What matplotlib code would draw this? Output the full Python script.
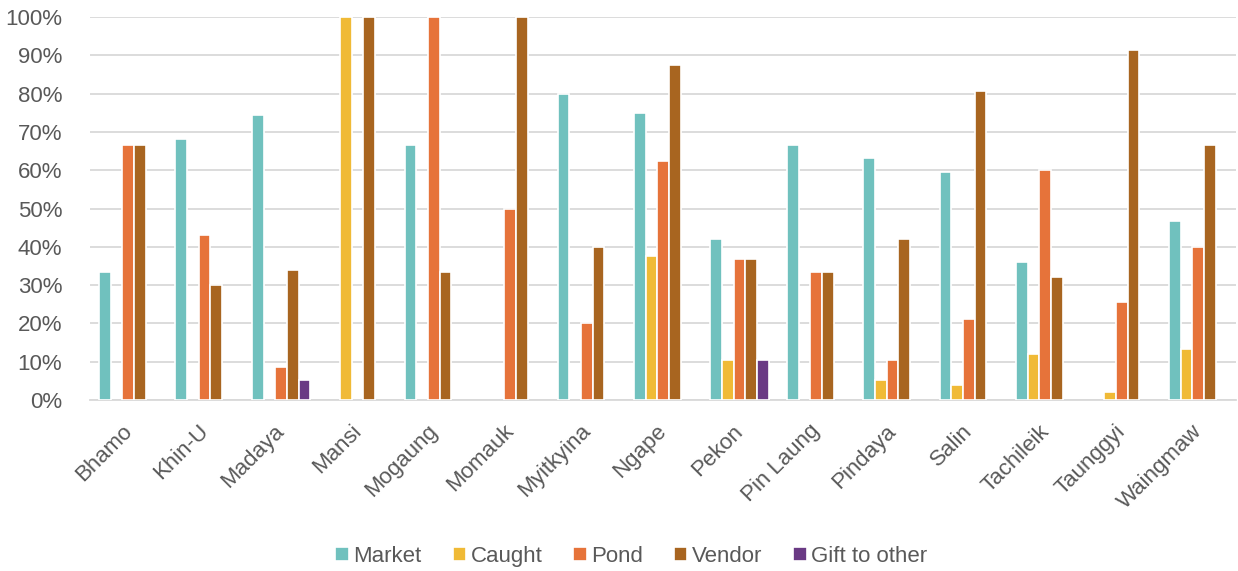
import numpy as np
import matplotlib.pyplot as plt
import matplotlib.transforms as mtransforms
from matplotlib.ticker import PercentFormatter

plt.rcParams['font.family'] = ['Liberation Sans', 'DejaVu Sans']

towns = ['Bhamo', 'Khin-U', 'Madaya', 'Mansi', 'Mogaung', 'Momauk', 'Myitkyina',
         'Ngape', 'Pekon', 'Pin Laung', 'Pindaya', 'Salin', 'Tachileik',
         'Taunggyi', 'Waingmaw']

market = [33.3, 68.2, 74.5, 0, 66.7, 0, 80.0, 75.0, 42.1, 66.7, 63.2, 59.6, 36.0, 0, 46.7]
caught = [0, 0, 0, 100.0, 0, 0, 0, 37.5, 10.5, 0, 5.3, 3.8, 12.0, 2.1, 13.3]
pond = [66.7, 43.2, 8.5, 0, 100.0, 50.0, 20.0, 62.5, 36.8, 33.3, 10.5, 21.2, 60.0, 25.5, 40.0]
vendor = [66.7, 30.0, 34.0, 100.0, 33.3, 100.0, 40.0, 87.5, 36.8, 33.3, 42.1, 80.8, 32.0, 91.5, 66.7]
gift = [0, 0, 5.1, 0, 0, 0, 0, 0, 10.5, 0, 0, 0, 0, 0, 0]

series = [
    ('Market', market, '#70C1BE'),
    ('Caught', caught, '#F0BA36'),
    ('Pond', pond, '#E6733A'),
    ('Vendor', vendor, '#A86520'),
    ('Gift to other', gift, '#6A3A84'),
]

fig = plt.figure(figsize=(12.38, 5.71), dpi=100)
ax = fig.add_axes([0.0727, 0.2995, 0.926, 0.6705])

x = np.arange(len(towns))
step = 0.153
handles = []
for k, (name, vals, col) in enumerate(series):
    # empty categories get no bar (avoids a white edge over the baseline)
    v = np.array(vals, dtype=float)
    v[v == 0] = np.nan
    b = ax.bar(x + (k - 2) * step, v, width=step, color=col,
               edgecolor='white', linewidth=1.2, label=name, zorder=3)
    handles.append(b)

ax.set_xlim(-0.5, len(towns) - 0.5)
ax.set_ylim(0, 100)
ax.set_yticks(np.arange(0, 101, 10))
ax.yaxis.set_major_formatter(PercentFormatter(decimals=0))
ax.grid(axis='y', color='#D9D9D9', linewidth=1.3, zorder=0)
for s in ax.spines.values():
    s.set_visible(False)
ax.tick_params(axis='y', length=0, pad=20, labelsize=16, labelcolor='#595959')
ax.tick_params(axis='x', length=0, pad=12, labelsize=16, labelcolor='#595959')
ax.set_xticks(x)
ax.set_xticklabels(towns, rotation=45, ha='right', rotation_mode='anchor')
shift = mtransforms.ScaledTranslation(-7 / 100, -4 / 100, fig.dpi_scale_trans)
for lbl in ax.get_xticklabels():
    lbl.set_transform(lbl.get_transform() + shift)
ax.axhline(0, color='#D9D9D9', linewidth=1.3, zorder=1, clip_on=False)

fig.legend(handles=handles, loc='center', bbox_to_anchor=(0.51, 0.026), ncol=5,
           frameon=False, fontsize=16, handlelength=0.6, handleheight=0.6,
           handletextpad=0.2, columnspacing=1.4, labelcolor='#595959')

fig.savefig('out.png', dpi=100)
